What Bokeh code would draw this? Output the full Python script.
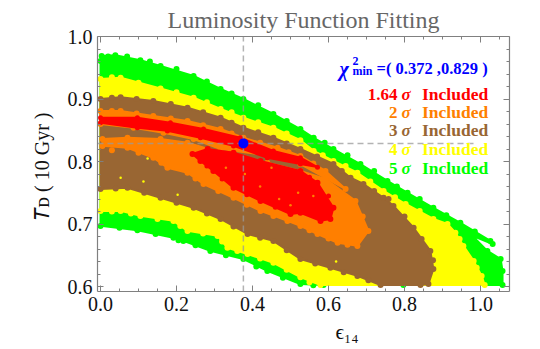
from bokeh.embed import file_html
from bokeh.resources import INLINE
from bokeh.plotting import figure
from bokeh.models import Range1d, LinearAxis, FixedTicker, Label, PrintfTickFormatter, Title

x_ticks = [0.0, 0.2, 0.4, 0.6, 0.8, 1.0]
x_minor = [round(i * 0.05, 2) for i in range(0, 22)]
y_ticks = [0.6, 0.7, 0.8, 0.9, 1.0]
y_minor = [round(0.6 + i * 0.02, 2) for i in range(0, 20)]

green_x = [0,.003,.039,.105,.158,.245,.316,.376,.455,.526,.561,.613,.684,.755,.808,.876,.947,1.026,1.032,.979,1.018,1.053,1.058,1.058,.797,.587,.526,.439,.376,.289,.218,.192,.097,0]
green_y = [.961,.969,.970,.962,.953,.937,.916,.900,.876,.852,.838,.820,.796,.769,.750,.726,.702,.673,.668,.681,.657,.644,.625,.6024,.6024,.6024,.604,.625,.644,.657,.673,.678,.690,.697]
yellow_x = [0,.053,.158,.245,.316,.376,.455,.526,.561,.613,.676,.745,.803,.876,.913,.934,.955,.982,1.003,1.011,.579,.526,.455,.387,.334,.308,.229,.192,.105,.053,0]
yellow_y = [.932,.934,.917,.902,.884,.870,.854,.834,.817,.801,.782,.753,.732,.708,.700,.686,.665,.641,.617,.6024,.6024,.615,.638,.652,.662,.681,.689,.705,.713,.721,.721]
brown_x = [0,.053,.139,.229,.316,.376,.455,.526,.613,.658,.692,.745,.771,.824,.868,.876,.863,.842,.737,.676,.605,.526,.455,.387,.316,.245,.158,.071,0]
brown_y = [.900,.903,.897,.886,.870,.854,.838,.820,.796,.774,.764,.742,.729,.694,.657,.628,.604,.6024,.6024,.617,.630,.644,.673,.684,.708,.726,.742,.758,.756]
orange_band_x = [0,.053,.139,.229,.316,.376,.466,.526,.592,.645,.526,.439,.316,.245,.166,.087,0]
orange_band_y = [.881,.881,.873,.865,.852,.838,.822,.809,.785,.756,.796,.810,.820,.836,.846,.854,.860]
orange_blob_x = [.005,.071,.158,.229,.316,.439,.526,.592,.671,.705,.676,.624,.571,.526,.492,.421,.350,.271,.229,.176,.139,.071,.005]
orange_blob_y = [.836,.838,.836,.830,.814,.798,.785,.772,.737,.689,.665,.670,.684,.697,.705,.721,.742,.764,.782,.790,.806,.822,.825]
red_band_x = [0,.097,.184,.271,.368,.455,.526,.571,.526,.439,.350,.263,.176,.097,0]
red_band_y = [.870,.870,.862,.852,.838,.817,.806,.791,.796,.806,.825,.838,.849,.854,.862]
red_blob_x = [.242,.282,.350,.421,.526,.571,.613,.605,.579,.526,.500,.421,.350,.297,.263]
red_blob_y = [.812,.820,.814,.801,.785,.766,.726,.708,.705,.718,.716,.737,.758,.785,.801]
best_x = [0.376]
best_y = [0.829]

green_edge_x = [.02,.07,.13,.20,.28,.345,.415,.49,.59,.65,.72,.78,.84,.91,.985,.05,.145,.205,.25,.33,.41,.48,.56]
green_edge_y = [.968,.968,.960,.948,.928,.909,.890,.865,.830,.810,.785,.760,.740,.714,.688,.694,.684,.674,.666,.650,.632,.614,.602]
yellow_edge_x = [.03,.10,.20,.28,.345,.415,.49,.585,.645,.71,.775,.84,.945,.99,.03,.08,.15,.21,.27,.32,.36,.42,.49,.55]
yellow_edge_y = [.935,.926,.911,.895,.879,.863,.845,.810,.793,.768,.743,.721,.676,.630,.720,.717,.708,.697,.685,.672,.657,.645,.627,.607]
brown_edge_x = [.03,.095,.185,.27,.345,.415,.49,.57,.635,.72,.80,.845,.875,.758,.04,.115,.20,.28,.35,.42,.49,.565,.64,.705]
brown_edge_y = [.902,.900,.892,.879,.862,.847,.829,.808,.785,.753,.712,.676,.642,.740,.757,.750,.734,.717,.696,.678,.658,.637,.623,.610]
orange_edge_x = [.03,.095,.185,.27,.345,.42,.495,.56,.65,.60,.55,.455,.385,.31,.25,.16,.10,.69,.04,.11,.03]
orange_edge_y = [.881,.877,.869,.858,.845,.830,.815,.797,.667,.677,.690,.713,.731,.753,.773,.798,.814,.712,.830,.830,.818]
red_edge_x = [.55,.60,.46,.385,.32,.28,.05,.14,.23,.32,.41]
red_edge_y = [.775,.745,.727,.747,.772,.793,.866,.862,.851,.838,.821]
speck_yellow_x = [.053,.113,.203,.124,.44,.62]
speck_yellow_y = [.774,.768,.747,.805,.745,.640]
speck_orange_x = [.42,.47,.52,.38,.45,.50,.56,.33]
speck_orange_y = [.760,.740,.750,.780,.790,.730,.745,.790]

GREEN, YELLOW, BROWN, ORANGE, RED, BLUE = "#00FF00", "#FFFF00", "#996633", "#FF7F00", "#FF0000", "#0000FF"
AX = "#808080"

p = figure(frame_width=412, frame_height=255, width=540, height=349,
           x_range=Range1d(-0.0079, 1.0763), y_range=Range1d(0.592, 1.0),
           toolbar_location=None, output_backend="svg",
           min_border_left=97, min_border_right=31, min_border_top=36, min_border_bottom=58,
           x_axis_location=None, y_axis_location=None, background_fill_color="white")
p.outline_line_color = None
p.grid.visible = False
p.title = Title(text="Luminosity Function Fitting", align="center", text_font="Liberation Serif",
                text_font_size="24px", text_font_style="normal", text_color="#666666", standoff=7)

def style(ax, ticks, minor, labels):
    ax.ticker = FixedTicker(ticks=ticks, minor_ticks=minor)
    ax.formatter = PrintfTickFormatter(format="%.1f")
    ax.axis_line_color = AX
    ax.axis_line_width = 1.2
    ax.major_tick_line_color = AX
    ax.minor_tick_line_color = AX
    ax.major_tick_in = 6
    ax.major_tick_out = 0
    ax.minor_tick_in = 3
    ax.minor_tick_out = 0
    if labels:
        ax.major_label_text_font = "Liberation Serif"
        ax.major_label_text_font_size = "20px"
        ax.major_label_text_color = "#111111"
        ax.major_label_standoff = 5
        ax.axis_label_text_font = "Liberation Serif"
        ax.axis_label_text_font_style = "normal"
        ax.axis_label_text_font_size = "20px"
        ax.axis_label_text_color = "#111111"
    else:
        ax.major_label_text_font_size = "0px"
        ax.major_label_text_color = None
        ax.major_label_standoff = 0

for loc, tk, mn, lab in [("below", x_ticks, x_minor, True), ("left", y_ticks, y_minor, True),
                         ("above", x_ticks, x_minor, False), ("right", y_ticks, y_minor, False)]:
    ax = LinearAxis()
    style(ax, tk, mn, lab)
    if loc == "left":
        ax.axis_label = "𝑇ᴅ ( 10  Gyr )"
        ax.axis_label_standoff = 12
    p.add_layout(ax, loc)

p.add_layout(Title(text="ϵ₁₄", align="left", offset=238, text_font="Liberation Serif",
                   text_font_size="21px", text_font_style="normal", text_color="#111111", standoff=8), "below")

def region(xs, ys, color, ex=None, ey=None, r=3):
    p.patch(xs, ys, fill_color=color, line_color=color, line_width=2, line_join="round")
    p.scatter(xs, ys, size=2 * r, fill_color=color, line_color=None)
    if ex:
        p.scatter(ex, ey, size=2 * r, fill_color=color, line_color=None)

region(green_x, green_y, GREEN, green_edge_x, green_edge_y)
region(yellow_x, yellow_y, YELLOW, yellow_edge_x, yellow_edge_y)
region(brown_x, brown_y, BROWN, brown_edge_x, brown_edge_y)
p.scatter(speck_yellow_x, speck_yellow_y, size=2.5, fill_color=YELLOW, line_color=None)
region(orange_band_x, orange_band_y, ORANGE, orange_edge_x, orange_edge_y)
region(orange_blob_x, orange_blob_y, ORANGE)
region(red_band_x, red_band_y, RED, red_edge_x, red_edge_y, r=2.5)
region(red_blob_x, red_blob_y, RED)
p.scatter(speck_orange_x, speck_orange_y, size=2.5, fill_color=ORANGE, line_color=None)

p.segment(x0=best_x, y0=[0.592], x1=best_x, y1=[1.0], line_color="#999999", line_alpha=0.75, line_dash="6 4", line_width=1.5)
p.segment(x0=[-0.0079], y0=best_y, x1=[0.989], y1=best_y, line_color="#999999", line_alpha=0.75, line_dash="6 4", line_width=1.5)
p.scatter(best_x, best_y, size=10, fill_color=BLUE, line_color=None)

def dx(px):
    return (px - 100) / 380
def dy(py):
    return 1 - (py - 35.5) / 625

def note(px, py, text, color, size=17, style="bold", font="Liberation Serif", align="left", angle=0):
    p.add_layout(Label(x=dx(px), y=dy(py), text=text, text_color=color, text_font=font,
                       text_font_size=f"{size}px", text_font_style=style, text_align=align,
                       text_baseline="alphabetic", angle=angle))

rows = [("1.64", RED, 93), ("2", ORANGE, 111), ("3", BROWN, 129.3), ("4", YELLOW, 148), ("5", GREEN, 167)]
for num, col, base in rows:
    note(397, base, num, col, align="right")
    note(401, base, "σ", col, style="bold italic")
    note(421.5, base, "Included", col, size=17.5)

note(339, 68, "χ", BLUE, size=20, style="bold italic")
note(352, 60, "2", BLUE, size=12)
note(352, 70, "min", BLUE, size=12)
note(376, 67, "=( 0.372 ,0.829 )", BLUE, size=16.5)

open("out.html", "w").write(file_html(p, INLINE))
